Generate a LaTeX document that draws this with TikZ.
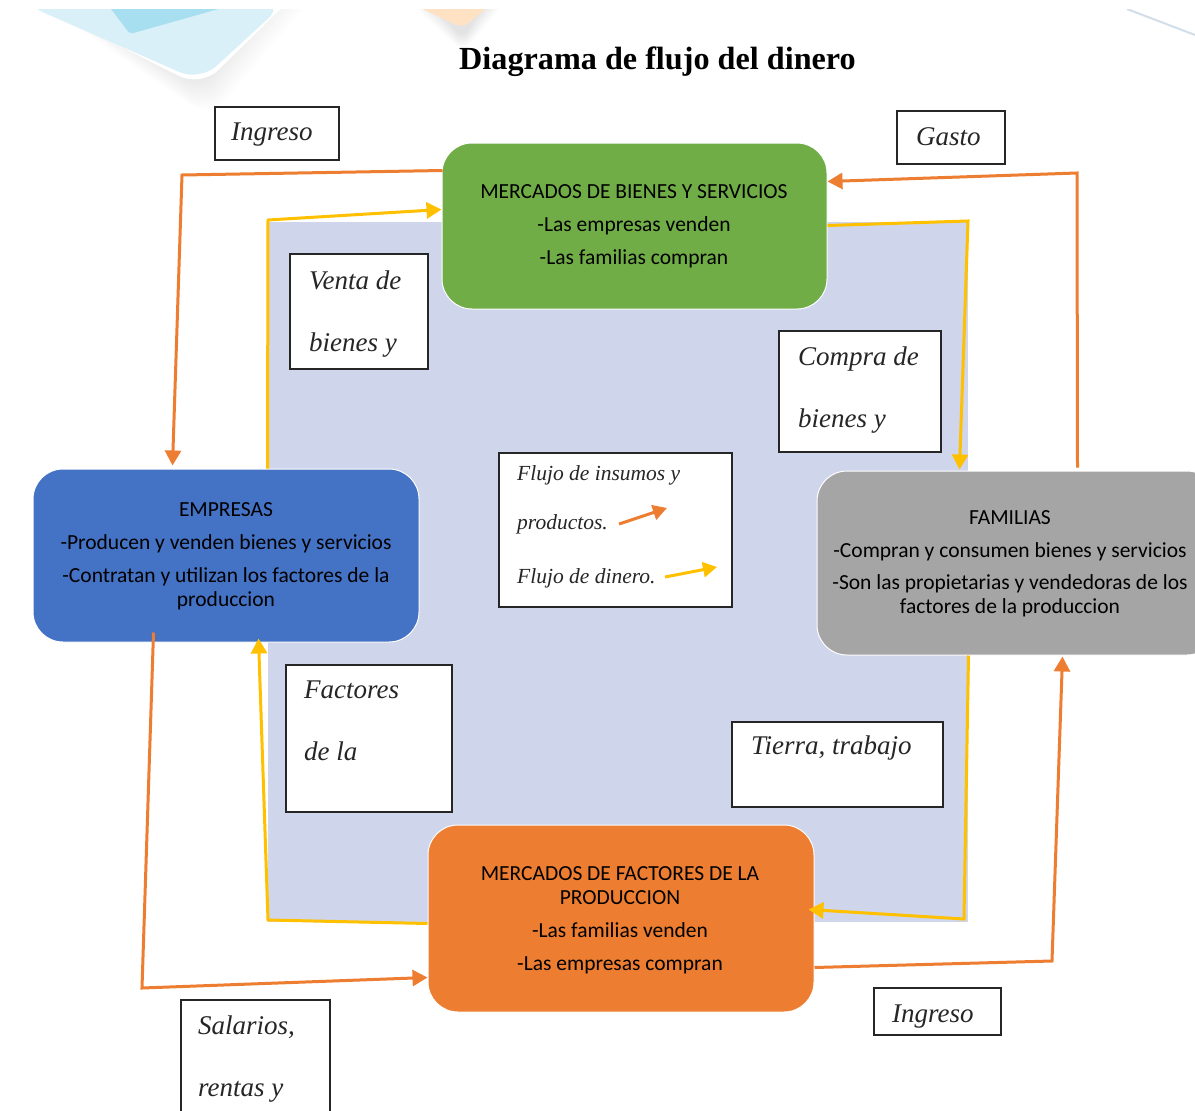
\documentclass[tikz,border=0pt]{standalone}
\usepackage{fontspec}
\usetikzlibrary{arrows.meta,calc}
\setmainfont{Carlito}
\newfontfamily\serifface{Liberation Serif}
\tikzset{
  x=1pt,y=-1pt,
  block/.style={rounded corners=30pt,draw=white,line width=1pt,inner sep=0pt,anchor=north west},
  blocktext/.style={inner sep=0pt,anchor=base,text=black,font=\fontsize{21.5}{24}\selectfont},
  labelbox/.style={draw=black!85,line width=2pt,fill=white,inner sep=0pt,anchor=north west},
  labeltext/.style={anchor=base west,inner sep=0pt,font=\serifface\itshape\fontsize{27}{30}\selectfont,text=black!85},
  legendtext/.style={anchor=base west,inner sep=0pt,font=\serifface\itshape\fontsize{21.5}{24}\selectfont,text=black!85},
  moneyflow/.style={draw=flowO,line width=3pt,-{Triangle[length=15pt,width=16pt]},line join=miter},
  goodsflow/.style={draw=flowY,line width=3pt,-{Triangle[length=15pt,width=16pt]},line join=miter},
}
\definecolor{flowO}{HTML}{ED7D31}
\definecolor{flowY}{HTML}{FFC000}
\definecolor{panel}{HTML}{CFD5EA}
\definecolor{greenb}{HTML}{70AD47}
\definecolor{blueb}{HTML}{4472C4}
\definecolor{grayb}{HTML}{A5A5A5}
\definecolor{orangeb}{HTML}{ED7D31}
\begin{document}
\begin{tikzpicture}
\useasboundingbox (0,0) rectangle (1195,1111);
\fill[white] (0,0) rectangle (1195,1111);
% background decoration: soft shadows, then the two tilted cards
\foreach \t in {0,1,...,13}{
  \pgfmathsetmacro{\xa}{8+2*\t}
  \pgfmathsetmacro{\xb}{210-1*\t}
  \pgfmathsetmacro{\yb}{118-3*\t}
  \pgfmathsetmacro{\xc}{345-5*\t}
  \fill[black,opacity=0.009,rounded corners=22pt] (\xa,-20) -- (\xb,\yb) -- (\xc,-40) -- cycle;
  \pgfmathsetmacro{\xd}{395+2*\t}
  \pgfmathsetmacro{\ye}{52-1*\t}
  \pgfmathsetmacro{\xf}{525-2*\t}
  \fill[black,opacity=0.008,rounded corners=10pt] (\xd,-10) -- (463,\ye) -- (\xf,-20) -- cycle;
}
\fill[white,rounded corners=24pt] (20,-4) -- (201,87) -- (300,-10) -- cycle;
\fill[fill={rgb,255:red,217;green,240;blue,248},rounded corners=22pt] (24,4) -- (200,81) -- (284,4) -- cycle;
\fill[fill={rgb,255:red,168;green,223;blue,240},rounded corners=3pt] (108,5) -- (130,34) -- (222,8) -- cycle;
\fill[fill={rgb,255:red,255;green,226;blue,196},rounded corners=8pt] (418,7) -- (463,28) -- (490,5) -- cycle;
\draw[line width=2pt,draw={rgb,255:red,210;green,222;blue,234}] (1127,9) -- (1195,35);
\fill[white] (0,0) rectangle (1195,9);
% title
\node[inner sep=0pt,font=\serifface\bfseries\fontsize{32.2}{34}\selectfont,anchor=base] (title) at (657.5,69) {Diagrama de flujo del dinero};
% panel
\fill[panel] (268,222) rectangle (968,922);
% blocks
\node[block,fill=greenb,minimum width=385pt,minimum height=166pt] (market) at (441.5,142.5) {};
\node[blocktext] (marketa) at (634,198) {MERCADOS DE BIENES Y SERVICIOS};
\node[blocktext] (marketb) at (634,231) {-Las empresas venden};
\node[blocktext] (marketc) at (634,264) {-Las familias compran};

\node[block,fill=blueb,minimum width=386pt,minimum height=173pt] (firms) at (32.5,468.5) {};
\node[blocktext] (firmsa) at (226,516) {EMPRESAS};
\node[blocktext] (firmsb) at (226,549) {-Producen y venden bienes y servicios};
\node[blocktext] (firmsc) at (226,582) {-Contratan y utilizan los factores de la};
\node[blocktext] (firmsd) at (226,606) {produccion};

\node[block,fill=grayb,minimum width=400pt,minimum height=184pt] (homes) at (816.5,470.5) {};
\node[blocktext] (homesa) at (1010,524) {FAMILIAS};
\node[blocktext] (homesb) at (1010,557) {-Compran y consumen bienes y servicios};
\node[blocktext] (homesc) at (1010,589) {-Son las propietarias y vendedoras de los};
\node[blocktext] (homesd) at (1010,613) {factores de la produccion};

\node[block,fill=orangeb,minimum width=386pt,minimum height=187pt] (factors) at (427.5,824.5) {};
\node[blocktext] (factorsa) at (620,880) {MERCADOS DE FACTORES DE LA};
\node[blocktext] (factorsb) at (620,904) {PRODUCCION};
\node[blocktext] (factorsc) at (620,937) {-Las familias venden};
\node[blocktext] (factorsd) at (620,970) {-Las empresas compran};
% corners
\coordinate (c1) at (182,175);
\coordinate (c2) at (1077,173);
\coordinate (c3) at (142,988);
\coordinate (c4) at (1052,961);
\coordinate (c5) at (268,220);
\coordinate (c6) at (968,221);
\coordinate (c7) at (964,919);
\coordinate (c8) at (268,920);
% flows
\draw[moneyflow] ($(market.north west)+(1,28)$) -- (c1) -- ($(firms.north west)+(140,-3)$);
\draw[moneyflow] ($(homes.north west)+(261,-3)$) -- (c2) -- ($(market.north east)+(0,39)$);
\draw[moneyflow] ($(firms.south west)+(121,-10)$) -- (c3) -- ($(factors.south west)+(0,-35)$);
\draw[moneyflow] ($(factors.south east)+(0,-45)$) -- (c4) -- ($(homes.south west)+(246,1)$);
\draw[goodsflow] ($(firms.north west)+(235,0)$) -- (c5) -- ($(market.north west)+(0,67)$);
\draw[goodsflow] ($(market.north east)+(0,83)$) -- (c6) -- ($(homes.north west)+(143,-1)$);
\draw[goodsflow] ($(homes.south west)+(152,0)$) -- (c7) -- ($(factors.north east)+(-6,85)$);
\draw[goodsflow] ($(factors.north west)+(0,99)$) -- (c8) -- ($(firms.south west)+(226,-4)$);
% label boxes
\node[labelbox,minimum width=124pt,minimum height=53pt] (bingreso) at (213.5,105.5) {};
\node[labeltext] (tingreso) at (231,140) {Ingreso};
\node[labelbox,minimum width=108pt,minimum height=53pt] (bgasto) at (895.5,109.5) {};
\node[labeltext] (tgasto) at (916,145) {Gasto};
\node[labelbox,minimum width=138pt,minimum height=115pt] (bventa) at (288.5,252.5) {};
\node[labeltext] (tventaa) at (309,289) {Venta de};
\node[labeltext] (tventab) at (309,351) {bienes y};
\node[labelbox,minimum width=162pt,minimum height=121pt] (bcompra) at (777.5,329.5) {};
\node[labeltext] (tcompraa) at (798,365) {Compra de};
\node[labeltext] (tcomprab) at (798,427) {bienes y};
\node[labelbox,minimum width=233pt,minimum height=154pt] (blegend) at (497.5,451.5) {};
\node[legendtext] (tlegenda) at (517,480) {Flujo de insumos y};
\node[legendtext] (tlegendb) at (517,529) {productos.};
\node[legendtext] (tlegendc) at (517,583) {Flujo de dinero.};
\coordinate (la) at (619,524); \coordinate (lb) at (667,508);
\coordinate (lc) at (665,577); \coordinate (ld) at (717,567);
\draw[draw=flowO,line width=3pt,-{Triangle[length=14pt,width=15pt]}] (la) -- (lb);
\draw[draw=flowY,line width=3pt,-{Triangle[length=14pt,width=15pt]}] (lc) -- (ld);
\node[labelbox,minimum width=166pt,minimum height=147pt] (bfactores) at (284.5,663.5) {};
\node[labeltext] (tfactoresa) at (304,698) {Factores};
\node[labeltext] (tfactoresb) at (304,760) {de la};
\node[labelbox,minimum width=211pt,minimum height=85pt] (btierra) at (730.5,720.5) {};
\node[labeltext] (ttierra) at (751,754) {Tierra, trabajo};
\node[labelbox,minimum width=149pt,minimum height=120pt] (bsalarios) at (179.5,998.5) {};
\node[labeltext] (tsalariosa) at (198,1034) {Salarios,};
\node[labeltext] (tsalariosb) at (198,1096) {rentas y};
\node[labelbox,minimum width=127pt,minimum height=47pt] (bingresob) at (872.5,986.5) {};
\node[labeltext] (tingresob) at (892,1022) {Ingreso};
\end{tikzpicture}
\end{document}
